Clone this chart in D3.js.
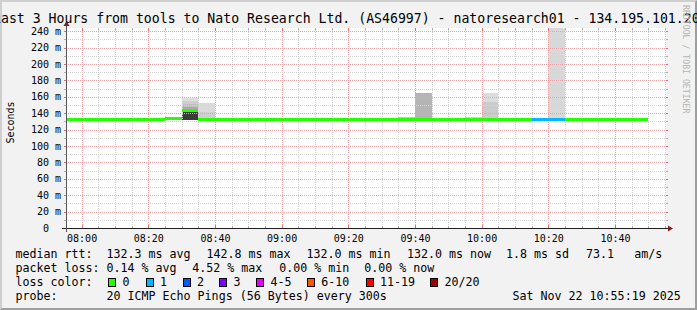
<!DOCTYPE html>
<html><head><meta charset="utf-8">
<script src="https://cdn.jsdelivr.net/npm/d3@7"></script>
<style>
html,body{margin:0;padding:0;background:#f2f2f2;overflow:hidden}
svg{display:block}
text{font-family:"DejaVu Sans Mono",monospace;fill:#000;white-space:pre}
</style></head><body>
<svg id="c" width="697" height="310"></svg>
<script>
// ---------------- data ----------------
const binEnds = ["08:00","08:05","08:10","08:15","08:20","08:25","08:30","08:35","08:40","08:45",
  "08:50","08:55","09:00","09:05","09:10","09:15","09:20","09:25","09:30","09:35",
  "09:40","09:45","09:50","09:55","10:00","10:05","10:10","10:15","10:20","10:25",
  "10:30","10:35","10:40","10:45","10:50"];
const medianRtt = [132,132,132,132,132,132,133.5,142.8,132,132,
  132,132,132,132,132,132,132,132,132,132,
  132,132,132,132,132,132,132,132,132,132,
  132,132,132,132,132];
const lossCount = [0,0,0,0,0,0,0,0,0,0,
  0,0,0,0,0,0,0,0,0,0,
  0,0,0,0,0,0,0,0,1,1,
  0,0,0,0,0];
const smokeEnd     = ["08:35","08:35","08:35","08:35","08:35","08:35","08:40","08:40","09:40","09:45","10:00","10:05","10:05","10:25"];
const smokeLow     = [131.6,131.6,131.6,131.6,131.6,131.6,131.5,131.5,131.5,131.5,131.5,131.5,131.5,131.5];
const smokeHigh    = [158.8,155,151.5,148,145,141,152.4,141,135.3,164.5,135.3,165,153.5,290];
const smokeDensity = [0.03,0.12,0.2,0.32,0.48,0.93,0.055,0.12,0.18,0.26,0.11,0.045,0.14,0.065];
const yTicks = [0,20,40,60,80,100,120,140,160,180,200,220,240];
const yTickLabels = ["0  ","20 m","40 m","60 m","80 m","100 m","120 m","140 m","160 m","180 m","200 m","220 m","240 m"];
const xTickLabels = ["08:00","08:20","08:40","09:00","09:20","09:40","10:00","10:20","10:40"];
const lossLabels = ["0","1","2","3","4-5","6-10","11-19","20/20"];
const lossColors = ["#26ff00","#00b8ff","#0059ff","#7e00ff","#e600ff","#ff5500","#ff0000","#a10000"];
const medianStats = ["132.3 ms avg","142.8 ms max","132.0 ms min","132.0 ms now","1.8 ms sd","73.1","am/s"];
const lossStats = ["0.14 % avg","4.52 % max","0.00 % min","0.00 % now"];
const titleText = "Last 3 Hours from tools to Nato Research Ltd. (AS46997) - natoresearch01 - 134.195.101.202";
const probeText = "20 ICMP Echo Pings (56 Bytes) every 300s";
const dateText = "Sat Nov 22 10:55:19 2025";

// ---------------- layout ----------------
const W = 697, H = 310;
const X0 = 66, X1 = 666, YB = 228, YT = 28;
const parse = d3.timeParse("%H:%M");
const start = new Date(parse("07:55").getTime() + 19000);
const end = new Date(parse("10:55").getTime() + 19000);
const x = d3.scaleTime().domain([start, end]).range([X0, X1]);
const y = d3.scaleLinear().domain([0, 244]).range([YB, YT]);
const lossIdx = d3.scaleThreshold().domain([1,2,3,4,6,11,20]).range(d3.range(8));
const smokeColor = d3.scaleLinear().domain([0,1]).range(["#e4e4e4","#2e2e2e"]);
const fiveMin = 5*60*1000;

const svg = d3.select("#c");
svg.append("rect").attr("width", W).attr("height", H).attr("fill", "#f2f2f2");
svg.append("polygon").attr("points", `0,${H} 2,${H-2} 2,2 ${W-2},2 ${W},0 0,0`).attr("fill", "#cfcfcf");
svg.append("polygon").attr("points", `2,${H-2} ${W-2},${H-2} ${W-2},2 ${W},0 ${W},${H} 0,${H}`).attr("fill", "#9e9e9e");
svg.append("rect").attr("x", X0).attr("y", YT).attr("width", X1-X0).attr("height", YB-YT).attr("fill", "#fff");

svg.append("clipPath").attr("id","plot").append("rect")
  .attr("x", X0).attr("y", YT).attr("width", X1-X0).attr("height", YB-YT);

// smoke
const gSmoke = svg.append("g").attr("clip-path","url(#plot)").attr("shape-rendering","crispEdges");
smokeEnd.forEach((e,i) => {
  const t1 = parse(e), t0 = new Date(t1.getTime()-fiveMin);
  const xa = Math.round(x(t0)), xb = Math.round(x(t1));
  const ya = Math.round(y(smokeHigh[i])), yb = Math.round(y(smokeLow[i]));
  gSmoke.append("rect").attr("x", xa).attr("width", xb-xa)
    .attr("y", ya).attr("height", yb-ya).attr("fill", smokeColor(smokeDensity[i]));
});

// grid
const gGrid = svg.append("g").attr("shape-rendering","crispEdges");
const minorT = d3.timeMinute.every(5).range(start, end);
minorT.forEach(t => {
  const major = t.getMinutes() % 20 === 0;
  const xx = Math.round(x(t)) + 0.5;
  const col = major ? "#eda3a3" : "#d4d4d4";
  gGrid.append("line").attr("x1", xx).attr("x2", xx).attr("y1", YT).attr("y2", YB)
    .attr("stroke", col).attr("stroke-dasharray", "1,1");
  gGrid.append("line").attr("x1", xx).attr("x2", xx).attr("y1", YB - (major?3:2)).attr("y2", YB)
    .attr("stroke", major ? "#e07070" : "#b0b0b0");
  gGrid.append("line").attr("x1", xx).attr("x2", xx).attr("y1", YT).attr("y2", YT + (major?3:2))
    .attr("stroke", major ? "#e07070" : "#b0b0b0");
});
d3.range(10, 241, 10).forEach(v => {
  const major = v % 20 === 0;
  const yy = Math.round(y(v)) + 0.5;
  const col = major ? "#eda3a3" : "#d4d4d4";
  gGrid.append("line").attr("x1", X0).attr("x2", X1).attr("y1", yy).attr("y2", yy)
    .attr("stroke", col).attr("stroke-dasharray", "1,1");
  gGrid.append("line").attr("x1", X0-2).attr("x2", X0).attr("y1", yy).attr("y2", yy)
    .attr("stroke", major ? "#e07070" : "#b0b0b0");
  gGrid.append("line").attr("x1", X1).attr("x2", X1+2).attr("y1", yy).attr("y2", yy)
    .attr("stroke", major ? "#e07070" : "#b0b0b0");
});

// median line coloured by loss
const gMed = svg.append("g").attr("clip-path","url(#plot)").attr("shape-rendering","crispEdges");
binEnds.forEach((e,i) => {
  const t1 = parse(e), t0 = new Date(t1.getTime()-fiveMin);
  const xa = Math.max(X0, Math.round(x(t0))), xb = Math.round(x(t1));
  const yc = Math.round(y(medianRtt[i]) - 1.5);
  gMed.append("rect").attr("x", xa).attr("width", xb-xa).attr("y", yc).attr("height", 3)
    .attr("fill", lossColors[lossIdx(lossCount[i])]);
});

// axes
svg.append("line").attr("x1", X0-4).attr("x2", X1+4).attr("y1", YB+0.5).attr("y2", YB+0.5)
  .attr("stroke", "#1f1f1f").attr("shape-rendering","crispEdges");
svg.append("line").attr("x1", X0+0.5).attr("x2", X0+0.5).attr("y1", YB+4).attr("y2", YT-4)
  .attr("stroke", "#555").attr("shape-rendering","crispEdges");
svg.append("polygon").attr("points", `${X1+2},${YB+0.5-3} ${X1+2},${YB+0.5+3} ${X1+7},${YB+0.5}`).attr("fill", "#801f1f");
svg.append("polygon").attr("points", `${X0+0.5-3},${YT-2} ${X0+0.5+3},${YT-2} ${X0+0.5},${YT-7}`).attr("fill", "#801f1f");

// y labels
yTicks.forEach((v,i) => {
  svg.append("text").attr("x", 61).attr("y", y(v) + 3.6).attr("text-anchor","end")
    .attr("font-size", 10).text(yTickLabels[i]);
});
// x labels
xTickLabels.forEach(l => {
  svg.append("text").attr("x", x(parse(l)) + 0.5).attr("y", 241.7).attr("text-anchor","middle")
    .attr("font-size", 10).text(l);
});
svg.append("text").attr("transform","translate(14,122.5) rotate(-90)").attr("text-anchor","middle")
  .attr("font-size", 10).text("Seconds");

// title
svg.append("text").attr("x", -7).attr("y", 23).attr("font-size", 13.2).attr("fill","#111").text(titleText);
// watermark
svg.append("text").attr("transform","translate(683,5) rotate(90)").attr("font-size", 8.2)
  .style("fill","#b4b4b4").text("RRDTOOL / TOBI OETIKER");

// legend
const lf = 11.65;
const rows = [258, 272.3, 286.3, 300];
svg.append("text").attr("x", 15.5).attr("y", rows[0]).attr("font-size", lf).text("median rtt:");
[107.3,207.3,307.3,407.7,506.7,586.7,635].forEach((xx,i) => {
  svg.append("text").attr("x", xx-0.8).attr("y", rows[0]).attr("font-size", lf).text(medianStats[i]);
});
svg.append("text").attr("x", 15.5).attr("y", rows[1]).attr("font-size", lf).text("packet loss:");
[107.3,193,280,365].forEach((xx,i) => {
  svg.append("text").attr("x", xx-0.8).attr("y", rows[1]).attr("font-size", lf).text(lossStats[i]);
});
svg.append("text").attr("x", 15.5).attr("y", rows[2]).attr("font-size", lf).text("loss color:");
const boxX = [108.3,145.7,182.7,219.3,256.3,307,365.7,430.3];
lossLabels.forEach((l,i) => {
  svg.append("rect").attr("x", Math.round(boxX[i])+0.5).attr("y", 278.5).attr("width", 7).attr("height", 8)
    .attr("fill", lossColors[i]).attr("stroke","#000").attr("shape-rendering","crispEdges");
  svg.append("text").attr("x", boxX[i]+14.2).attr("y", rows[2]).attr("font-size", lf).text(l);
});
svg.append("text").attr("x", 15.5).attr("y", rows[3]).attr("font-size", lf).text("probe:");
svg.append("text").attr("x", 106.5).attr("y", rows[3]).attr("font-size", lf).text(probeText);
svg.append("text").attr("x", 512.5).attr("y", rows[3]).attr("font-size", lf).text(dateText);
</script>
</body></html>
